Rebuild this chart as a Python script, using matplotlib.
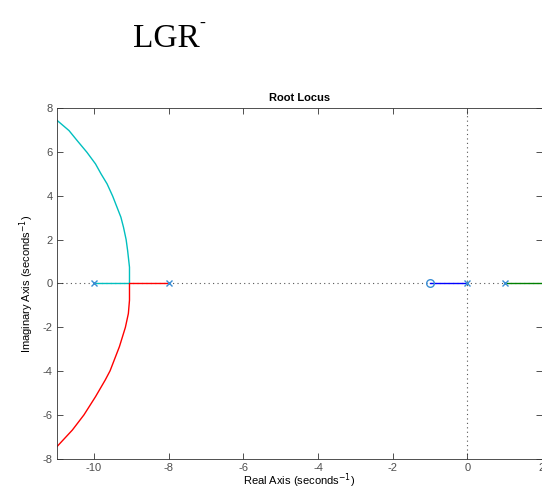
import numpy as np
import matplotlib
matplotlib.use("Agg")
import matplotlib.pyplot as plt

# ── Data ──────────────────────────────────────────────────────
poles = [-10.0, -8.0, 0.0, 1.0]
zeros = [-1.0]

# upper branch: leaves pole -10, breaks away near -9.05, goes up-left
up_re = [-10.0, -9.05, -9.05, -9.10, -9.14, -9.21, -9.28, -9.39, -9.50,
         -9.65, -9.81, -9.96, -10.19, -10.45, -10.67, -11.0]
up_im = [0.0, 0.0, 0.74, 1.5, 2.0, 2.56, 3.02, 3.5, 3.98,
         4.54, 4.99, 5.45, 5.98, 6.51, 6.97, 7.45]

# lower branch: leaves pole -8, breaks away, goes down-left
lo_re = [-8.0, -9.05, -9.05, -9.08, -9.16, -9.32, -9.57, -9.70, -9.96,
         -10.27, -10.58, -11.0]
lo_im = [0.0, 0.0, -0.76, -1.37, -2.0, -2.88, -3.98, -4.4, -5.16,
         -5.99, -6.68, -7.45]

# real-axis branches
blue_re = [-1.0, 0.0]
green_re = [1.0, 2.0]

xticks = [-10, -8, -6, -4, -2, 0, 2]
yticks = [-8, -6, -4, -2, 0, 2, 4, 6, 8]

plt.rcParams["font.family"] = ["Liberation Sans", "DejaVu Sans"]
plt.rcParams["axes.unicode_minus"] = False

fig = plt.figure(figsize=(5.42, 4.86), dpi=100)
ax = fig.add_axes([0.1046, 0.0556, 0.8954, 0.7222])

# dotted reference lines
ax.axhline(0, color="#555555", ls=(0, (1, 3)), lw=0.8, zorder=1)
ax.axvline(0, color="#555555", ls=(0, (1, 3)), lw=0.8, zorder=1)

ax.plot(up_re, up_im, color="#00bfbf", lw=1.0, zorder=2)
ax.plot(lo_re, lo_im, color="#ff0000", lw=1.0, zorder=2)
ax.plot(blue_re, [0, 0], color="#0000ff", lw=1.0, zorder=2)
ax.plot(green_re, [0, 0], color="#008000", lw=1.0, zorder=2)

ax.plot(poles, np.zeros(len(poles)), ls="none", marker="x", ms=5, mew=1.0,
        color="#3b8ed4", zorder=3)
ax.plot(zeros, np.zeros(len(zeros)), ls="none", marker="o", ms=5.5, mew=1.0,
        mfc="none", color="#3b8ed4", zorder=3)

ax.set_xlim(-11, 2)
ax.set_ylim(-8, 8)
ax.set_xticks(xticks)
ax.set_yticks(yticks)
ax.tick_params(direction="in", top=True, right=True, length=4, width=0.6,
               labelsize=8, labelcolor="#4d4d4d", color="#333333", pad=3)
for s in ax.spines.values():
    s.set_linewidth(0.6)
    s.set_color("#333333")

ax.set_title("Root Locus", fontsize=8, fontweight="bold", pad=5)
ax.set_xlabel("Real Axis (seconds$^{-1}$)", fontsize=8, labelpad=-1)
ax.set_ylabel("Imaginary Axis (seconds$^{-1}$)", fontsize=8, labelpad=5)

# page heading above the plot
fig.text(0.245, 0.92, "LGR", fontsize=24, family="Liberation Serif",
         ha="left", va="center")
fig.text(0.367, 0.953, "-", fontsize=13, family="Liberation Serif",
         ha="left", va="center")

fig.savefig("out.png", dpi=100)
